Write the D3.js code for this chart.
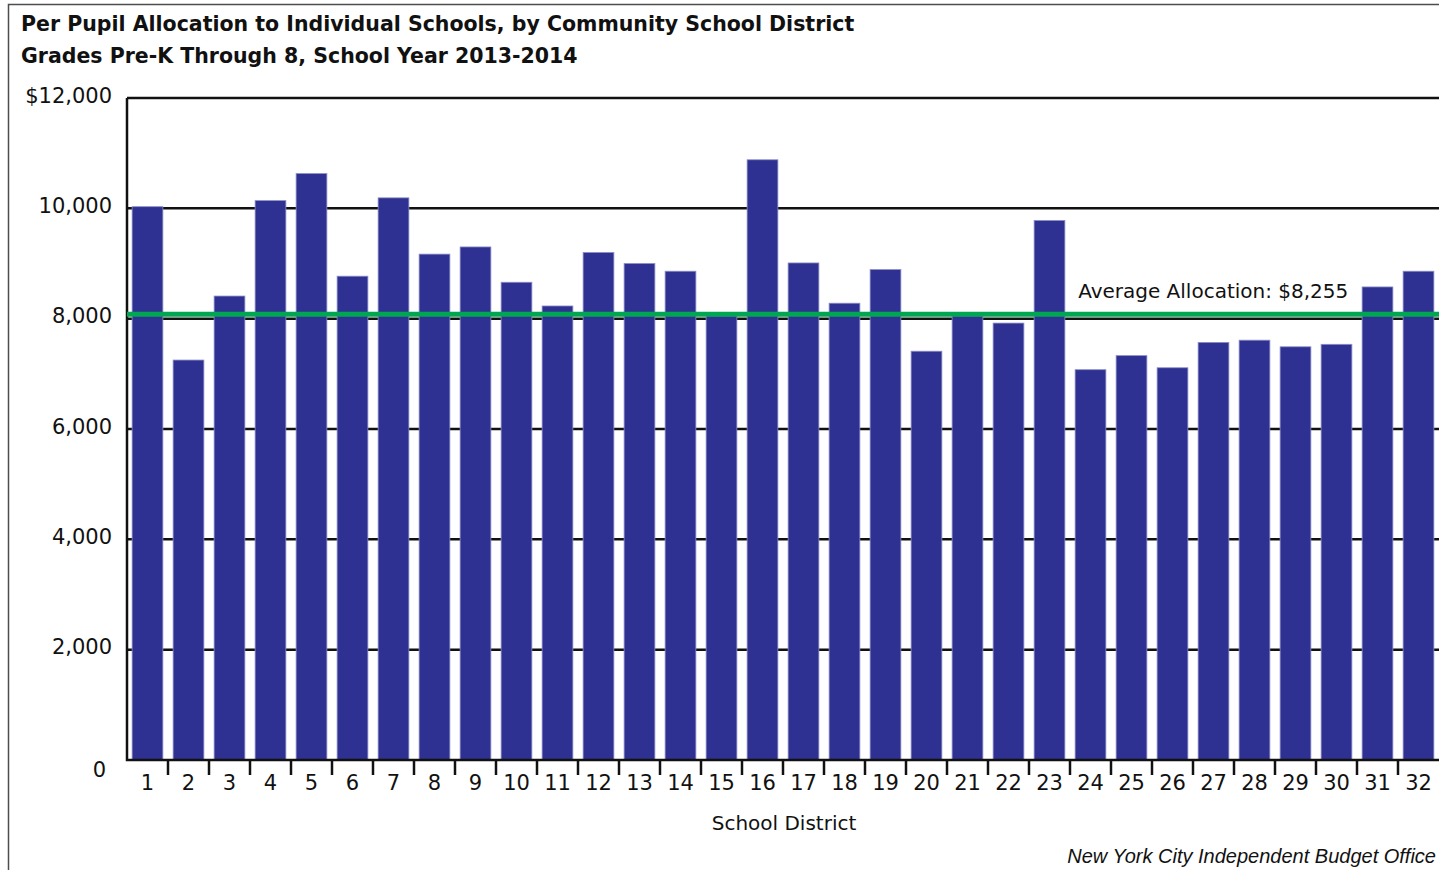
<!DOCTYPE html>
<html>
<head>
<meta charset="utf-8">
<script src="https://cdn.jsdelivr.net/npm/d3@7"></script>
<style>
  body { margin: 0; background: #fff; }
  svg { display: block; }
</style>
</head>
<body>
<script>
const districts = ['1','2','3','4','5','6','7','8','9','10','11','12','13','14','15','16',
  '17','18','19','20','21','22','23','24','25','26','27','28','29','30','31','32'];
const allocation = [10030, 7250, 8410, 10140, 10630, 8770, 10190, 9170, 9300, 8660, 8230, 9200,
  9000, 8860, 8050, 10880, 9010, 8280, 8890, 7410, 8050, 7920, 9780, 7075,
  7330, 7110, 7570, 7610, 7490, 7535, 8575, 8860];
const yTicks = [0, 2000, 4000, 6000, 8000, 10000, 12000];
const averageLine = 8080;
const averageText = 'Average Allocation: $8,255';
const titleLines = ['Per Pupil Allocation to Individual Schools, by Community School District',
  'Grades Pre-K Through 8, School Year 2013-2014'];
const xTitle = 'School District';
const source = 'New York City Independent Budget Office';

const width = 1439;
const height = 870;
const margin = { top: 98, right: 0, bottom: 110, left: 127 };

const svg = d3.select('body')
  .append('svg')
  .attr('width', width)
  .attr('height', height);

// outer frame (left and top edges only, the rest is cropped)
svg.append('path')
  .attr('d', `M8.5,${height} V4.5 H${width}`)
  .attr('fill', 'none')
  .attr('stroke', '#4d4d4d')
  .attr('stroke-width', 1.5);

svg.selectAll('.title')
  .data(titleLines)
  .enter()
  .append('text')
  .classed('title', true)
  .attr('x', 21)
  .attr('y', (d, i) => 31 + i * 32)
  .style('font-family', '"DejaVu Sans", sans-serif')
  .style('font-weight', 'bold')
  .style('font-size', '20.5px')
  .attr('fill', '#111')
  .text(d => d);

const x = d3.scaleBand()
  .domain(districts)
  .range([margin.left, width - margin.right])
  .paddingInner(0.25)
  .paddingOuter(0.125);

const y = d3.scaleLinear()
  .domain([0, 12000])
  .range([height - margin.bottom, margin.top]);

const chart = svg.append('g');

chart.append('g')
  .classed('gridline', true)
  .selectAll('line')
  .data(yTicks.filter(d => d > 0))
  .enter()
  .append('line')
  .attr('x1', margin.left)
  .attr('x2', width)
  .attr('y1', d => y(d))
  .attr('y2', d => y(d))
  .attr('stroke', '#111')
  .attr('stroke-width', 2.5);

chart.selectAll('.bar')
  .data(allocation)
  .enter()
  .append('rect')
  .classed('bar', true)
  .attr('x', (d, i) => x(districts[i]))
  .attr('y', d => y(d))
  .attr('width', x.bandwidth())
  .attr('height', d => y(0) - y(d))
  .attr('fill', '#2e3192')
  .attr('stroke', '#8c8ec6')
  .attr('stroke-width', 0.8);

// left and bottom axis lines
chart.append('path')
  .attr('d', `M${margin.left},${y(12000)} V${y(0)} H${width}`)
  .attr('fill', 'none')
  .attr('stroke', '#111')
  .attr('stroke-width', 2.5);

// ticks between the districts
chart.append('g')
  .selectAll('line')
  .data(districts.slice(1))
  .enter()
  .append('line')
  .attr('x1', d => x(d) - x.step() * x.paddingInner() / 2)
  .attr('x2', d => x(d) - x.step() * x.paddingInner() / 2)
  .attr('y1', y(0))
  .attr('y2', y(0) + 15)
  .attr('stroke', '#111')
  .attr('stroke-width', 2.5);

const xAxis = d3.axisBottom(x)
  .tickSize(0)
  .tickPadding(15);

chart.append('g')
  .classed('x axis', true)
  .attr('transform', `translate(0,${y(0)})`)
  .call(xAxis)
  .call(g => g.select('.domain').remove())
  .selectAll('text')
  .style('font-family', '"DejaVu Sans", sans-serif')
  .style('font-size', '21px')
  .attr('fill', '#111');

const yAxis = d3.axisLeft(y)
  .tickValues(yTicks)
  .tickSize(0)
  .tickPadding(15)
  .tickFormat(d => d === 12000 ? '$' + d3.format(',')(d) : d3.format(',')(d));

chart.append('g')
  .classed('y axis', true)
  .attr('transform', `translate(${margin.left},0)`)
  .call(yAxis)
  .call(g => g.select('.domain').remove())
  .selectAll('text')
  .style('font-family', '"DejaVu Sans", sans-serif')
  .style('font-size', '21px')
  .attr('fill', '#111')
  .attr('dy', d => d === 0 ? '0.8em' : '0.2em')
  .attr('dx', d => d === 0 ? -6 : 0);

// average line
chart.append('line')
  .attr('x1', margin.left)
  .attr('x2', width)
  .attr('y1', y(averageLine))
  .attr('y2', y(averageLine))
  .attr('stroke', '#00a651')
  .attr('stroke-width', 5);

chart.append('text')
  .attr('x', x('24') + 3)
  .attr('y', y(averageLine) - 16)
  .style('font-family', '"DejaVu Sans", sans-serif')
  .style('font-size', '20px')
  .attr('fill', '#111')
  .text(averageText);

svg.append('text')
  .attr('x', 784)
  .attr('y', 830)
  .style('font-family', '"DejaVu Sans", sans-serif')
  .style('font-size', '20px')
  .style('text-anchor', 'middle')
  .attr('fill', '#111')
  .text(xTitle);

svg.append('text')
  .attr('x', 1436)
  .attr('y', 863)
  .style('font-family', '"Liberation Sans", Arial, sans-serif')
  .style('font-style', 'italic')
  .style('font-size', '20px')
  .style('text-anchor', 'end')
  .attr('fill', '#111')
  .text(source);
</script>
</body>
</html>
